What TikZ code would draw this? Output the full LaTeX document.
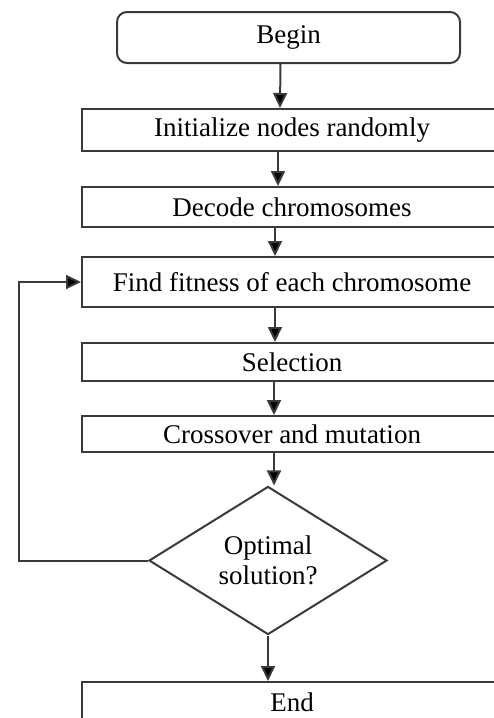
\documentclass[tikz,border=0pt]{standalone}
\usepackage{fontspec}
\setmainfont{Liberation Serif}
\usetikzlibrary{positioning, arrows.meta, shapes.geometric}
\definecolor{linegray}{HTML}{3A3A3A}
\tikzset{
    >=Triangle,
    every node/.style={font=\fontsize{27}{31}\selectfont, text=black}
}

\begin{document}
\begin{tikzpicture}[
  x=1pt, y=-1pt,
  procbox/.style={rectangle, draw=linegray, line width=2pt, minimum width=420pt, inner sep=0pt},
  startbox/.style={rectangle, draw=linegray, line width=2pt, rounded corners=10pt, minimum width=343pt, minimum height=51pt},
  decision/.style={diamond, draw=linegray, line width=2pt, minimum width=238pt, minimum height=143pt, inner sep=0pt, align=center, font=\fontsize{27}{30}\selectfont},
  arrowstyle/.style={-{Triangle[length=15pt, width=14pt, fill=black]}, draw=linegray, line width=2pt}
]
  \useasboundingbox (0,0) rectangle (494,718);

  % Process steps from top to bottom
  \node[startbox] (begin) at (288.5,37.5) {Begin};
  \node[procbox, minimum height=42pt] (init)  at (292,130) {Initialize nodes randomly};
  \node[procbox, minimum height=40pt] (decode) at (292,207) {Decode chromosomes};
  \node[procbox, minimum height=50pt] (find)  at (292,282) {Find fitness of each chromosome};
  \node[procbox, minimum height=38pt] (select) at (292,362) {Selection};
  \node[procbox, minimum height=36pt] (cross) at (292,434) {Crossover and mutation};
  \node[decision] (opt) at (268,560.5) {Optimal\\solution?};
  \node[procbox, minimum height=40pt] (end)   at (292,702) {End};

  % Flow arrows
  \draw[arrowstyle] ([xshift=-8pt]begin.south) -- ([xshift=-12pt]init.north);
  \draw[arrowstyle] ([xshift=-14pt]init.south) -- ([xshift=-14pt]decode.north);
  \draw[arrowstyle] ([xshift=-17pt]decode.south) -- ([xshift=-17pt]find.north);
  \draw[arrowstyle] ([xshift=-17pt]find.south) -- ([xshift=-17pt]select.north);
  \draw[arrowstyle] ([xshift=-18pt]select.south) -- ([xshift=-18pt]cross.north);
  \draw[arrowstyle] ([xshift=-18pt]cross.south) -- ([xshift=-18pt]cross.south |- opt.north);
  \draw[arrowstyle] (opt.south) -- (opt.south |- end.north);

  % Loop back when not optimal
  \draw[arrowstyle] (opt.west) -- ++(-129,0) |- (find.west);
\end{tikzpicture}
\end{document}
